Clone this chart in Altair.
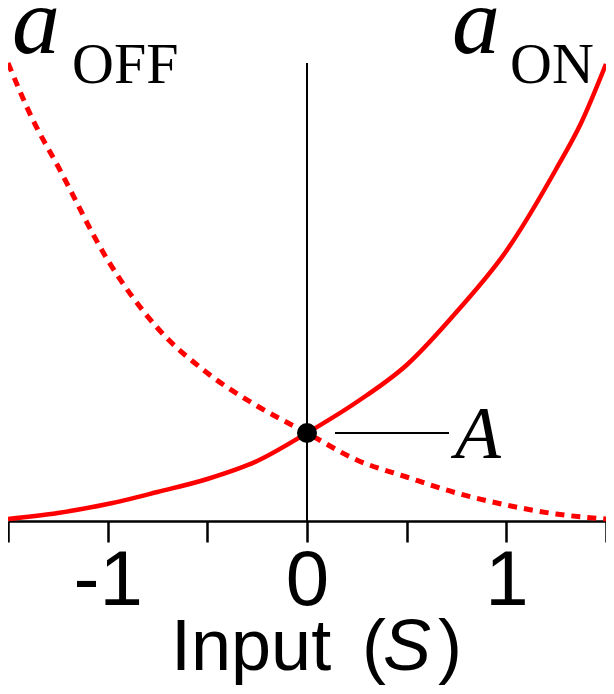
import altair as alt
import pandas as pd

# Input values S
S = [-1.5, -1.25, -1.0, -0.75, -0.5, -0.25, 0.0, 0.25, 0.5, 0.75, 1.0, 1.25, 1.375, 1.5]
# a_ON (solid) and a_OFF (dotted), arbitrary units
A_ON = [0.02, 0.08, 0.17, 0.29, 0.42, 0.60, 0.88, 1.19, 1.56, 2.09, 2.70, 3.52, 3.98, 4.57]
S_OFF = [-1.5, -1.375, -1.25, -1.0, -0.75, -0.5, -0.25, 0.0, 0.25, 0.5, 0.75, 1.0, 1.25, 1.5]
A_OFF = [4.58, 4.01, 3.55, 2.61, 1.93, 1.48, 1.15, 0.88, 0.61, 0.44, 0.28, 0.16, 0.07, 0.02]
CROSS_S = [0.0]
CROSS_A = [0.88]
VLINE_BOTTOM = [0.0]
VLINE_TOP = [4.58]
TICKS = [-1.5, -1.0, -0.5, 0.0, 0.5, 1.0, 1.5]

on_df = pd.DataFrame({"S": S, "a": A_ON})
off_df = pd.DataFrame({"S": S_OFF, "a": A_OFF})
pt_df = pd.DataFrame({"S": CROSS_S, "a": CROSS_A})
vl_df = pd.DataFrame({"S": CROSS_S, "a0": VLINE_BOTTOM, "a1": VLINE_TOP})

xs = alt.Scale(domain=[-1.5, 1.5], nice=False, zero=False)
ys = alt.Scale(domain=[0, 5.13], nice=False, zero=False)

xaxis = alt.Axis(
    values=TICKS, grid=False, title=None,
    domainColor="black", domainWidth=2.5, tickColor="black", tickWidth=2.5, tickSize=21,
    labelFont="Liberation Sans", labelFontSize=78, labelColor="black", labelPadding=0,
    labelExpr="datum.value == -1 ? '-1' : (datum.value == 0 ? '0' : (datum.value == 1 ? '1' : ''))",
)

base_on = alt.Chart(on_df).mark_line(color="#ff0000", strokeWidth=4.5, interpolate="monotone").encode(
    x=alt.X("S:Q", scale=xs, axis=xaxis),
    y=alt.Y("a:Q", scale=ys, axis=None),
)
off_line = alt.Chart(off_df).mark_line(color="#ff0000", strokeWidth=5, strokeDash=[9, 7], interpolate="monotone").encode(
    x=alt.X("S:Q"),
    y=alt.Y("a:Q"),
)
vline = alt.Chart(vl_df).mark_rule(color="black", strokeWidth=2).encode(
    x=alt.X("S:Q"),
    y=alt.Y("a0:Q"),
    y2="a1:Q",
)
dot = alt.Chart(pt_df).mark_point(filled=True, color="black", size=400, opacity=1).encode(
    x=alt.X("S:Q"),
    y=alt.Y("a:Q"),
)
connector = alt.Chart(pt_df).mark_rule(color="black", strokeWidth=2, xOffset=28).encode(
    x=alt.X("S:Q"),
    x2=alt.value(441),
    y=alt.Y("a:Q"),
)


def txt(s, dx, dy, size, font, style="normal"):
    return alt.Chart(pt_df).mark_text(
        text=s, font=font, fontSize=size, fontStyle=style, align="left",
        baseline="alphabetic", color="black", dx=dx, dy=dy,
    ).encode(x=alt.X("S:Q"), y=alt.Y("a:Q"))


texts = [
    txt("a", -295, -380, 96, "Liberation Serif", "italic"),
    txt("OFF", -235, -350, 58, "Liberation Serif"),
    txt("a", 145, -380, 96, "Liberation Serif", "italic"),
    txt("ON", 203, -350, 58, "Liberation Serif"),
    txt("A", 148, 25, 75, "Liberation Serif", "italic"),
    txt("Input", -136, 237, 72, "Liberation Sans"),
    txt("(", 55, 237, 72, "Liberation Sans"),
    txt("S", 76, 237, 72, "Liberation Sans", "italic"),
    txt(")", 131, 237, 72, "Liberation Sans"),
]

chart = alt.layer(base_on, off_line, vline, connector, dot, *texts).properties(
    width=598, height=513,
    autosize=alt.AutoSizeParams(type="none"),
    padding={"left": 0, "top": 0, "right": 0, "bottom": 165},
).configure_view(stroke=None)

chart.save("out.html", embed_options={"renderer": "svg", "actions": False})
